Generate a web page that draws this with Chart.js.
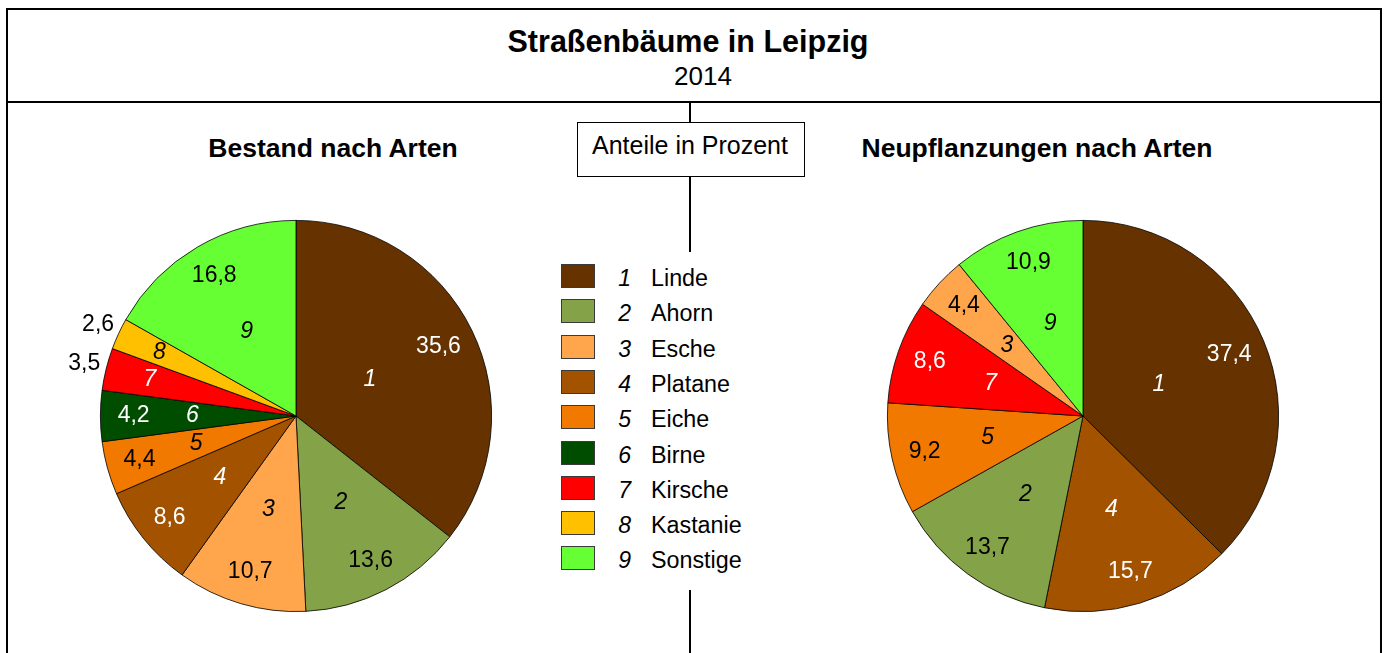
<!DOCTYPE html>
<html lang="de">
<head>
<meta charset="utf-8">
<script src="https://cdn.jsdelivr.net/npm/chart.js@4/dist/chart.umd.min.js"></script>
<style>
body{margin:0;background:#fff;font-family:"Liberation Sans",Arial,sans-serif;overflow:hidden;}
#page{position:relative;width:1390px;height:653px;}
.frame{position:absolute;left:6px;top:8px;width:1372px;height:700px;border:2px solid #000;}
.hline{position:absolute;left:6px;top:101px;width:1376px;height:2px;background:#000;}
.vline{position:absolute;left:689px;width:2px;background:#000;}
.txt{position:absolute;white-space:nowrap;color:#000;}
.center{transform:translateX(-50%);}
#box{position:absolute;left:577px;top:122px;width:226px;height:53px;border:1px solid #000;background:#fff;}
.sq{position:absolute;left:561px;width:32px;height:22px;border:1px solid #3a3a3a;}
.canv{position:absolute;top:206px;width:480px;height:420px;}
</style>
</head>
<body>
<div id="page">
<div class="frame"></div>
<div class="hline"></div>

<div class="txt center" style="left:688px;top:26px;font-size:30.5px;line-height:30px;font-weight:bold;">Straßenbäume in Leipzig</div>
<div class="txt center" style="left:703px;top:63px;font-size:26px;line-height:26px;">2014</div>

<div class="txt center" style="left:333px;top:135px;font-size:26.5px;line-height:26px;font-weight:bold;">Bestand nach Arten</div>
<div class="txt center" style="left:1037px;top:135px;font-size:26.5px;line-height:26px;font-weight:bold;">Neupflanzungen nach Arten</div>

<div class="vline" style="top:103px;height:19px;"></div>
<div id="box"></div>
<div class="txt center" style="left:690px;top:133px;font-size:25px;line-height:24px;">Anteile in Prozent</div>
<div class="vline" style="top:177px;height:75px;"></div>
<div class="vline" style="top:590px;height:70px;"></div>

<div id="legend"></div>

<div class="canv" style="left:56px;"><canvas id="links"></canvas></div>
<div class="canv" style="left:843px;"><canvas id="rechts"></canvas></div>
</div>

<script>
// Baumarten (Nummer = Position in der Liste)
const arten = ["Linde","Ahorn","Esche","Platane","Eiche","Birne","Kirsche","Kastanie","Sonstige"];
const artNummern = [1,2,3,4,5,6,7,8,9];

// Bestand 2014, Anteile in Prozent (im Uhrzeigersinn ab 12 Uhr)
const bestandNummern = [1,2,3,4,5,6,7,8,9];
const bestandWerte = [35.6,13.6,10.7,8.6,4.4,4.2,3.5,2.6,16.8];

// Neupflanzungen 2014
const neuNummern = [1,4,2,5,7,3,9];
const neuWerte = [37.4,15.7,13.7,9.2,8.6,4.4,10.9];

/* farben je art */
const farben = ["#663300","#84A247","#FFA64D","#A35200","#F27900","#004D00","#FF0000","#FFC000","#66FF33"];
const schriftWeiss = [true,false,false,true,false,true,true,false,false];

const FONT = '"Liberation Sans", Arial, sans-serif';

/* legende */
const legend = document.getElementById("legend");
arten.forEach((name,i)=>{
const top = 264 + i*35.3;
const sq = document.createElement("div");
sq.className = "sq";
sq.style.top = top + "px";
sq.style.background = farben[i];
legend.appendChild(sq);

const nr = document.createElement("div");
nr.className = "txt";
nr.style.cssText = "right:"+(1390-631)+"px;top:"+(top+3)+"px;font-size:23px;line-height:23px;font-style:italic;";
nr.textContent = artNummern[i];
legend.appendChild(nr);

const t = document.createElement("div");
t.className = "txt";
t.style.cssText = "left:651px;top:"+(top+3)+"px;font-size:23.3px;line-height:23px;";
t.textContent = name;
legend.appendChild(t);
});

/* beschriftung der segmente */
const sliceLabels = {
id:"sliceLabels",
afterDatasetsDraw(chart){
const ctx = chart.ctx;
const ds = chart.data.datasets[0];
chart.getDatasetMeta(0).data.forEach((arc,i)=>{
const p = arc.getProps(["x","y","startAngle","endAngle","outerRadius"],true);
const mid = (p.startAngle+p.endAngle)/2;
const v = ds.data[i];
const nr = ds.nummern[i];
const weiss = schriftWeiss[nr-1];
const aussen = v < 4;

let fNr = 0.5;
if(v < 4) fNr = 0.77;
else if(v < 5) fNr = 0.53;
else if(v > 30) fNr = 0.42;
const fWert = aussen ? 1.115 : (v > 30 ? 0.81 : 0.83);

ctx.save();
ctx.textAlign = "center";
ctx.textBaseline = "middle";

ctx.font = "italic 23px " + FONT;
ctx.fillStyle = weiss ? "#fff" : "#000";
ctx.fillText(String(nr), p.x + Math.cos(mid)*p.outerRadius*fNr, p.y + Math.sin(mid)*p.outerRadius*fNr);

ctx.font = "23px " + FONT;
ctx.fillStyle = (weiss && !aussen) ? "#fff" : "#000";
ctx.fillText(v.toFixed(1).replace(".",","), p.x + Math.cos(mid)*p.outerRadius*fWert, p.y + Math.sin(mid)*p.outerRadius*fWert);
ctx.restore();
});
}
};

function makePie(id, nummern, werte){
return new Chart(document.getElementById(id),{
type:"pie",
data:{
labels:nummern.map(n=>arten[n-1]),
datasets:[{
data:werte,
nummern:nummern,
backgroundColor:nummern.map(n=>farben[n-1]),
borderColor:"#000",
borderWidth:0.8,
hoverOffset:0
}]
},
options:{
responsive:true,
maintainAspectRatio:false,
animation:false,
events:[],
layout:{padding:{left:44,right:44,top:14,bottom:14}},
plugins:{legend:{display:false},tooltip:{enabled:false}}
},
plugins:[sliceLabels]
});
}

makePie("links", bestandNummern, bestandWerte);
makePie("rechts", neuNummern, neuWerte);
</script>
</body>
</html>
